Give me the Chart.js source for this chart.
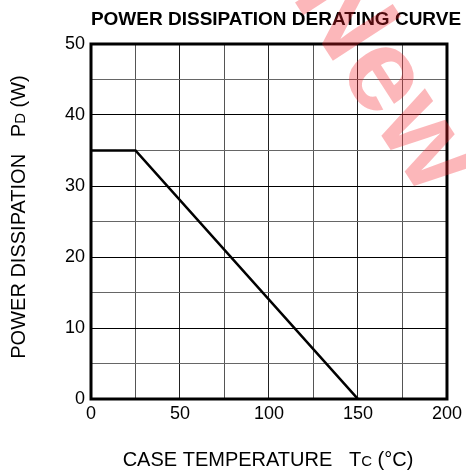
<!DOCTYPE html>
<html>
<head>
<meta charset="utf-8">
<script src="https://cdn.jsdelivr.net/npm/chart.js@4"></script>
<style>
  html,body{margin:0;padding:0;background:#fff;}
  #wrap{width:466px;height:473px;position:relative;}
</style>
</head>
<body>
<div id="wrap"><canvas id="chart"></canvas></div>
<script>
// Data
const caseTemp = [0, 25, 150];      // Tc (°C)
const powerDiss = [35, 35, 0];      // Pd (W)
const xTicksShown = [0, 50, 100, 150, 200];
const yTicksShown = [0, 10, 20, 30, 40, 50];

const FONT = "'Liberation Sans', Arial, Helvetica, sans-serif";

// draw a string made of parts with different sizes, centred at x
function drawParts(ctx, parts, x, y){
  let w = 0;
  parts.forEach(p => { ctx.font = p.f; w += ctx.measureText(p.t).width; });
  let cx = x - w/2;
  ctx.textAlign = "left";
  parts.forEach(p => { ctx.font = p.f; ctx.fillText(p.t, cx, y); cx += ctx.measureText(p.t).width; });
}

const extras = {
  id: "extras",
  afterDraw(chart){
    const ctx = chart.ctx, a = chart.chartArea;
    ctx.save();
    // frame
    ctx.strokeStyle = "#000"; ctx.lineWidth = 3;
    ctx.strokeRect(a.left, a.top, a.right - a.left, a.bottom - a.top);

    ctx.fillStyle = "#000"; ctx.textBaseline = "alphabetic";
    // title
    ctx.font = "bold 19px " + FONT; ctx.textAlign = "center";
    ctx.fillText("POWER DISSIPATION DERATING CURVE", 276, 25);

    // x axis title
    const big = "20px " + FONT, small = "15px " + FONT;
    drawParts(ctx, [{t:"CASE TEMPERATURE   T", f:big}, {t:"C", f:small}, {t:" (°C)", f:big}], 268, 466);

    // y axis title
    ctx.translate(25, 217); ctx.rotate(-Math.PI/2);
    drawParts(ctx, [{t:"POWER DISSIPATION   P", f:big}, {t:"D", f:small}, {t:" (W)", f:big}], 0, 0);
    ctx.restore();

    // watermark
    ctx.save();
    ctx.translate(384, 80); ctx.rotate(57 * Math.PI/180);
    ctx.font = "bold 118px " + FONT;
    ctx.fillStyle = "rgba(245,30,40,0.32)";
    ctx.textAlign = "center"; ctx.textBaseline = "middle";
    ctx.fillText("New", 0, 0);
    ctx.restore();
  }
};

const ctx = document.getElementById("chart").getContext("2d");
new Chart(ctx, {
  type: "scatter",
  data: {
    datasets: [{
      data: caseTemp.map((t, i) => ({x: t, y: powerDiss[i]})),
      showLine: true,
      borderColor: "#000",
      borderWidth: 2.6,
      pointRadius: 0,
      fill: false
    }]
  },
  options: {
    responsive: true,
    maintainAspectRatio: false,
    animation: false,
    layout: {padding: {top: 44, right: 19, left: 0, bottom: 0}},
    plugins: {legend: {display: false}, tooltip: {enabled: false}, title: {display: false}},
    scales: {
      x: {
        type: "linear", min: 0, max: 200,
        afterFit: s => { s.height = 74; },
        ticks: {
          stepSize: 25, padding: 4, color: "#000",
          font: {family: FONT, size: 18},
          callback: v => xTicksShown.includes(v) ? String(v) : ""
        },
        grid: {
          color: c => c.tick && c.tick.value % 50 === 0 ? "#222" : "#555",
          lineWidth: 1, drawTicks: false
        },
        border: {display: false}
      },
      y: {
        type: "linear", min: 0, max: 50,
        afterFit: s => { s.width = 91; },
        ticks: {
          stepSize: 5, padding: 6, color: "#000",
          font: {family: FONT, size: 18},
          callback: v => yTicksShown.includes(v) ? String(v) : ""
        },
        grid: {
          color: c => c.tick && c.tick.value % 10 === 0 ? "#000" : "#666",
          lineWidth: 1, drawTicks: false
        },
        border: {display: false}
      }
    }
  },
  plugins: [extras]
});
</script>
</body>
</html>
